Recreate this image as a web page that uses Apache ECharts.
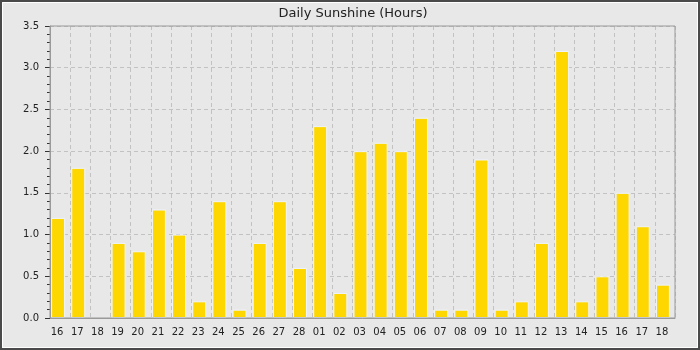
<!DOCTYPE html>
<html>
<head>
<meta charset="utf-8">
<script src="https://cdn.jsdelivr.net/npm/echarts@6/dist/echarts.min.js"></script>
<style>
html,body{margin:0;padding:0;background:#e8e8e8;}
#c{width:700px;height:350px;}
</style>
</head>
<body>
<div id="c"></div>
<script>
const categories = ['16','17','18','19','20','21','22','23','24','25','26','27','28','01','02','03','04','05','06','07','08','09','10','11','12','13','14','15','16','17','18'];
const sunshine = [1.2,1.8,0,0.9,0.8,1.3,1.0,0.2,1.4,0.1,0.9,1.4,0.6,2.3,0.3,2.0,2.1,2.0,2.4,0.1,0.1,1.9,0.1,0.2,0.9,3.2,0.2,0.5,1.5,1.1,0.4];
const yTicks = {min: 0, max: 3.5, interval: 0.5};
const spacer = categories.map(() => 0);

const chart = echarts.init(document.getElementById('c'), null, {renderer: 'canvas'});
const font = 'DejaVu Sans';
const axisColor = '#9a9a9a';
const gridColor = '#c2c2c2';
const barData = sunshine.map(v => v === 0 ? {value: v, itemStyle: {borderWidth: 0}} : v);
chart.setOption({
  backgroundColor: '#e8e8e8',
  animation: false,
  title: {
    text: 'Daily Sunshine (Hours)',
    left: 348, top: 2, textAlign: 'center',
    textStyle: {fontFamily: font, fontSize: 13, fontWeight: 'normal', color: '#222'}
  },
  grid: {left: 50, right: 25, top: 26, bottom: 32, show: true, z: 5, borderColor: axisColor, borderWidth: 1, backgroundColor: 'transparent'},
  xAxis: {
    type: 'category',
    data: categories,
    boundaryGap: true,
    axisLine: {lineStyle: {color: axisColor, width: 1}},
    axisTick: {show: false},
    axisLabel: {interval: 0, margin: 9, fontFamily: font, fontSize: 10, color: '#222', padding: [0, 6, 0, 0]},
    splitLine: {show: true, interval: 0, lineStyle: {color: gridColor, type: [4, 3], width: 1}}
  },
  yAxis: {
    type: 'value',
    min: yTicks.min, max: yTicks.max, interval: yTicks.interval,
    axisLine: {show: true, lineStyle: {color: axisColor, width: 1}},
    axisTick: {show: true, length: 5, lineStyle: {color: '#333'}},
    minorTick: {show: true, splitNumber: 5, length: 3, lineStyle: {color: '#333'}},
    axisLabel: {margin: 11, fontFamily: font, fontSize: 10, color: '#222', formatter: v => v.toFixed(1)},
    splitLine: {show: true, lineStyle: {color: gridColor, type: [4, 3], width: 1}}
  },
  series: [
    {
      type: 'bar', data: barData, barWidth: 14, barGap: '0%',
      itemStyle: {color: '#FFD700', borderColor: '#eef4ff', borderWidth: 1}
    },
    {
      type: 'bar', data: spacer, barWidth: 4, silent: true,
      itemStyle: {color: 'rgba(0,0,0,0)', borderWidth: 0}
    }
  ],
  graphic: [
    {type: 'rect', silent: true, shape: {x: 1, y: 1, width: 698, height: 348}, style: {fill: 'none', stroke: '#4a4a4a', lineWidth: 2}},
    {type: 'rect', silent: true, shape: {x: 2.5, y: 2.5, width: 695, height: 345}, style: {fill: 'none', stroke: '#ffffff', lineWidth: 1}}
  ]
});
</script>
</body>
</html>
